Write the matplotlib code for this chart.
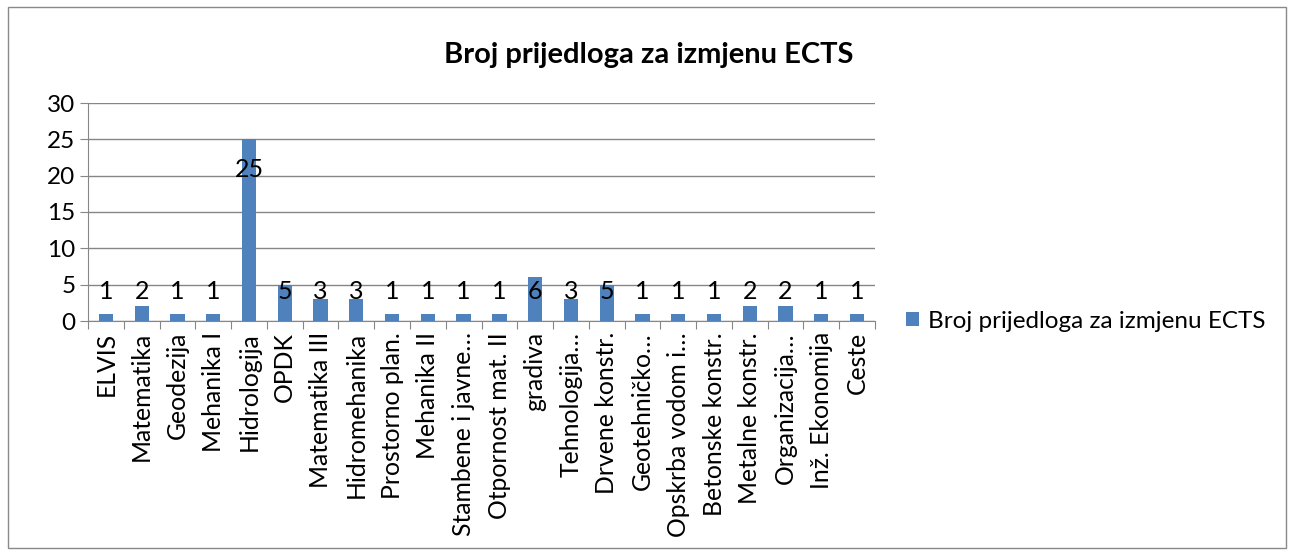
import matplotlib
matplotlib.use("Agg")
import matplotlib.pyplot as plt
import numpy as np

categories = ["ELVIS", "Matematika", "Geodezija", "Mehanika I", "Hidrologija", "OPDK",
              "Matematika III", "Hidromehanika", "Prostorno plan.", "Mehanika II",
              "Stambene i javne…", "Otpornost mat. II", "gradiva", "Tehnologija…",
              "Drvene konstr.", "Geotehničko…", "Opskrba vodom i…", "Betonske konstr.",
              "Metalne konstr.", "Organizacija…", "Inž. Ekonomija", "Ceste"]
values = [1, 2, 1, 1, 25, 5, 3, 3, 1, 1, 1, 1, 6, 3, 5, 1, 1, 1, 2, 2, 1, 1]
series_name = "Broj prijedloga za izmjenu ECTS"
yticks = [0, 5, 10, 15, 20, 25, 30]

plt.rcParams['font.family'] = ['Lato', 'DejaVu Sans']
W, H = 1295, 554
fig = plt.figure(figsize=(W / 100, H / 100), dpi=100)

# outer border
fig.patches.append(matplotlib.patches.Rectangle((8 / W, 6 / H), (1286 - 8) / W, (547 - 6) / H,
                                                transform=fig.transFigure, fill=False,
                                                edgecolor="#898989", linewidth=1.0))

ax = fig.add_axes([88 / W, 1 - 321 / H, (875 - 88) / W, (321 - 103) / H])
x = np.arange(len(categories))
bars = ax.bar(x, values, width=0.4, color="#4F81BD", label=series_name, zorder=3)

ax.set_xlim(-0.5, len(categories) - 0.5)
ax.set_ylim(0, 30)
ax.set_yticks(yticks)
ax.set_yticklabels([str(t) for t in yticks], fontsize=17.5)
ax.yaxis.grid(True, color="#868686", linewidth=1.0, zorder=0)
ax.set_axisbelow(True)
for s in ["top", "right"]:
    ax.spines[s].set_visible(False)
for s in ["left", "bottom"]:
    ax.spines[s].set_color("#868686")
ax.tick_params(axis="y", direction="out", length=6, color="#868686", pad=3)
ax.set_xticks(np.arange(len(categories) + 1) - 0.5, minor=False)
ax.set_xticklabels([])
ax.tick_params(axis="x", which="major", direction="out", length=6, color="#868686")
ax.set_xticks(x, minor=True)
ax.set_xticklabels(categories, minor=True, rotation=90, fontsize=17.8, ha="center", va="top")
ax.tick_params(axis="x", which="minor", length=0, pad=8)

# data labels
for xi, v in zip(x, values):
    ly = v - 4.2 if v > 10 else 4.0
    ax.text(xi, ly, str(v), ha="center", va="center", fontsize=18, zorder=4)

fig.text((443 + 855) / 2 / W, 1 - 55 / H, series_name, ha="center", va="center",
         fontsize=21, fontweight="bold")

fig.legend(handles=[bars], labels=[series_name], loc="center left",
           bbox_to_anchor=(884 / W, 1 - 321 / H), frameon=False, fontsize=17.5,
           handlelength=0.55, handleheight=0.55, handletextpad=0.35)

fig.savefig("out.png", dpi=100)
